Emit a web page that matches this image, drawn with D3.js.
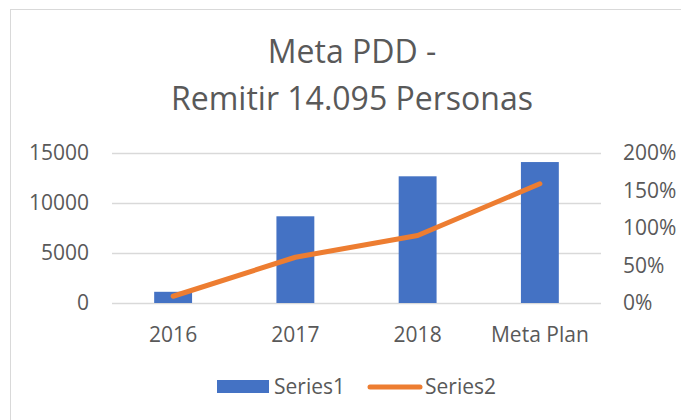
<!DOCTYPE html>
<html>
<head>
<meta charset="utf-8">
<script src="https://cdn.jsdelivr.net/npm/d3@7"></script>
<style>
  body { margin: 0; background: #fff; }
  text { font-family: "Open Sans", sans-serif; fill: #595959; }
</style>
</head>
<body>
<div id="chart"></div>
<script>
// data
const categories = ["2016", "2017", "2018", "Meta Plan"];
const series1 = [1120, 8670, 12670, 14095];
const series2 = [0.09, 0.61, 0.90, 1.59];
const leftTicks = [0, 5000, 10000, 15000];
const rightTicks = [0, 0.5, 1, 1.5, 2];
const titleLines = ["Meta PDD -", "Remitir 14.095 Personas"];

const width = 681, height = 420;
const plot = {left: 112, right: 601, top: 153, bottom: 303};

const svg = d3.select("#chart")
  .append("svg")
    .attr("width", width)
    .attr("height", height);

svg.append("rect")
  .attr("width", width).attr("height", height)
  .attr("fill", "#fff");

// chart area border
svg.append("rect")
  .attr("x", 10.5).attr("y", 9.5)
  .attr("width", 720).attr("height", 440)
  .attr("fill", "none")
  .attr("stroke", "#d9d9d9");

// title
svg.append("text")
  .attr("x", 352)
  .attr("text-anchor", "middle")
  .style("font-size", "32px")
  .selectAll("tspan")
  .data(titleLines)
  .join("tspan")
    .attr("x", 352)
    .attr("y", (d, i) => 63 + i * 47)
    .text(d => d);

const x = d3.scaleBand()
  .domain(categories)
  .range([plot.left, plot.right]);

const y = d3.scaleLinear()
  .domain([0, 15000])
  .range([plot.bottom, plot.top]);

const y2 = d3.scaleLinear()
  .domain([0, 2])
  .range([plot.bottom, plot.top]);

const cx = d => x(d) + x.bandwidth() / 2;

// gridlines
svg.append("g")
  .selectAll("line")
  .data(leftTicks)
  .join("line")
    .attr("x1", plot.left).attr("x2", plot.right)
    .attr("y1", d => Math.round(y(d)) + 0.5)
    .attr("y2", d => Math.round(y(d)) + 0.5)
    .attr("stroke", "#d9d9d9")
    .attr("stroke-width", 1.5);

// left axis
const leftAxis = svg.append("g")
  .attr("transform", `translate(89,0)`)
  .call(d3.axisLeft(y).tickValues(leftTicks).tickSize(0).tickPadding(0).tickFormat(d3.format("d")));
leftAxis.select(".domain").remove();
leftAxis.selectAll("text").style("font-size", "21px").attr("fill", "#595959").attr("font-family", null);

// right axis
const rightAxis = svg.append("g")
  .attr("transform", `translate(623,0)`)
  .call(d3.axisRight(y2).tickValues(rightTicks).tickSize(0).tickPadding(0).tickFormat(d3.format(".0%")));
rightAxis.select(".domain").remove();
rightAxis.selectAll("text").style("font-size", "21px").attr("fill", "#595959").attr("font-family", null);

// bottom labels
svg.append("g")
  .selectAll("text")
  .data(categories)
  .join("text")
    .attr("x", d => cx(d))
    .attr("y", 342)
    .attr("text-anchor", "middle")
    .style("font-size", "21px")
    .text(d => d);

// bars
const barW = x.bandwidth() * 0.31;
svg.append("g")
  .selectAll("rect")
  .data(series1)
  .join("rect")
    .attr("x", (d, i) => cx(categories[i]) - barW / 2)
    .attr("y", d => y(d))
    .attr("width", barW)
    .attr("height", d => y(0) - y(d))
    .attr("fill", "#4472c4");

// line
const line = d3.line()
  .x((d, i) => cx(categories[i]))
  .y(d => y2(d));

svg.append("path")
  .datum(series2)
  .attr("d", line)
  .attr("fill", "none")
  .attr("stroke", "#ed7d31")
  .attr("stroke-width", 5)
  .attr("stroke-linejoin", "round")
  .attr("stroke-linecap", "round");

// legend
const legend = svg.append("g");
legend.append("rect")
  .attr("x", 217).attr("y", 380)
  .attr("width", 52).attr("height", 13)
  .attr("fill", "#4472c4");
legend.append("text")
  .attr("x", 274).attr("y", 394)
  .style("font-size", "21px")
  .text("Series1");
legend.append("line")
  .attr("x1", 370).attr("x2", 420)
  .attr("y1", 387).attr("y2", 387)
  .attr("stroke", "#ed7d31")
  .attr("stroke-width", 5)
  .attr("stroke-linecap", "round");
legend.append("text")
  .attr("x", 425).attr("y", 394)
  .style("font-size", "21px")
  .text("Series2");
</script>
</body>
</html>
